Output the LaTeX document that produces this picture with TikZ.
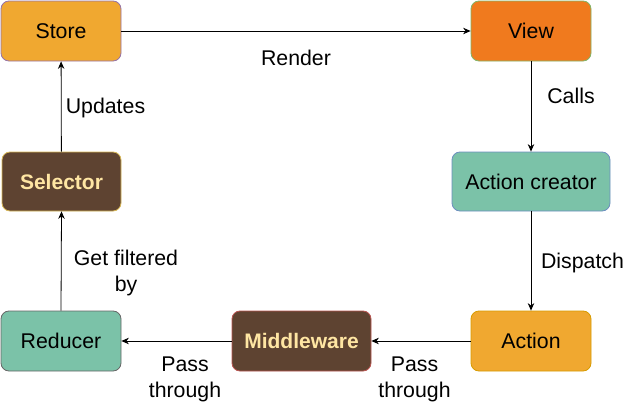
\documentclass[tikz,border=0pt]{standalone}
\usepackage{fontspec}
\setmainfont{Liberation Sans}
\usetikzlibrary{arrows.meta}
\definecolor{ambr}{HTML}{F0A830}
\definecolor{orng}{HTML}{F07A1E}
\definecolor{teal2}{HTML}{7BC2A8}
\definecolor{brwn}{HTML}{5E4331}
\definecolor{cream}{HTML}{FFE6A3}
\definecolor{bdpurple}{HTML}{9673A6}
\definecolor{bdgreen}{HTML}{82B366}
\definecolor{bdblue}{HTML}{6C8EBF}
\definecolor{bdorange}{HTML}{D79B00}
\definecolor{bdred}{HTML}{B85450}
\definecolor{bdgray}{HTML}{666666}
\definecolor{bdyellow}{HTML}{D6B656}
\begin{document}
\begin{tikzpicture}[x=1pt,y=-1pt,
  font=\fontsize{21.3}{26}\selectfont,
  box/.style={draw, rounded corners=8pt, line width=0.8pt, text height=15pt, text depth=0pt, inner sep=0pt, anchor=center},
  dark/.style={box, fill=brwn, text=cream, font=\fontsize{21}{26}\selectfont\bfseries},
  conn/.style={-{Stealth[length=7.5pt,width=6.5pt,inset=2.5pt]}, line width=0.8pt},
  lbl/.style={inner sep=0pt, align=center, anchor=north}]
\useasboundingbox (0,0) rectangle (633,415);
\node[box, fill=ambr, draw=bdpurple, minimum width=120pt, minimum height=60pt] (store) at (61,31) {Store};
\node[box, fill=orng, draw=bdgreen, minimum width=120pt, minimum height=60pt] (view) at (531,31) {View};
\node[box, fill=teal2, draw=bdblue, minimum width=158pt, minimum height=59pt] (creator) at (531,181.5) {Action creator};
\node[box, fill=ambr, draw=bdorange, minimum width=120pt, minimum height=60pt] (action) at (531,341) {Action};
\node[dark, draw=bdred, minimum width=139pt, minimum height=60pt] (mid) at (301.5,341) {Middleware};
\node[box, fill=teal2, draw=bdgray, minimum width=120pt, minimum height=60pt] (reducer) at (61,341) {Reducer};
\node[dark, draw=bdyellow, minimum width=119pt, minimum height=59pt] (selector) at (61.5,181.5) {Selector};
\draw[conn] (store) -- (view);
\draw[conn] (view) -- (creator);
\draw[conn] (creator) -- (action);
\draw[conn] (action) -- (mid);
\draw[conn] (mid) -- (reducer);
\draw[conn] (reducer.north) -- (selector.south);
\draw[conn] (selector) -- (store);
\node[lbl] (lrender) at (296,50) {Render};
\node[lbl] (lcalls) at (571,88) {Calls};
\node[lbl] (ldispatch) at (582.5,253) {Dispatch};
\node[lbl] (lpass1) at (414.5,357) {Pass\\through};
\node[lbl] (lpass2) at (185,357) {Pass\\through};
\node[lbl] (lfilter) at (126,250) {Get filtered\\by};
\node[lbl] (lupdates) at (105.5,98) {Updates};
\end{tikzpicture}
\end{document}
